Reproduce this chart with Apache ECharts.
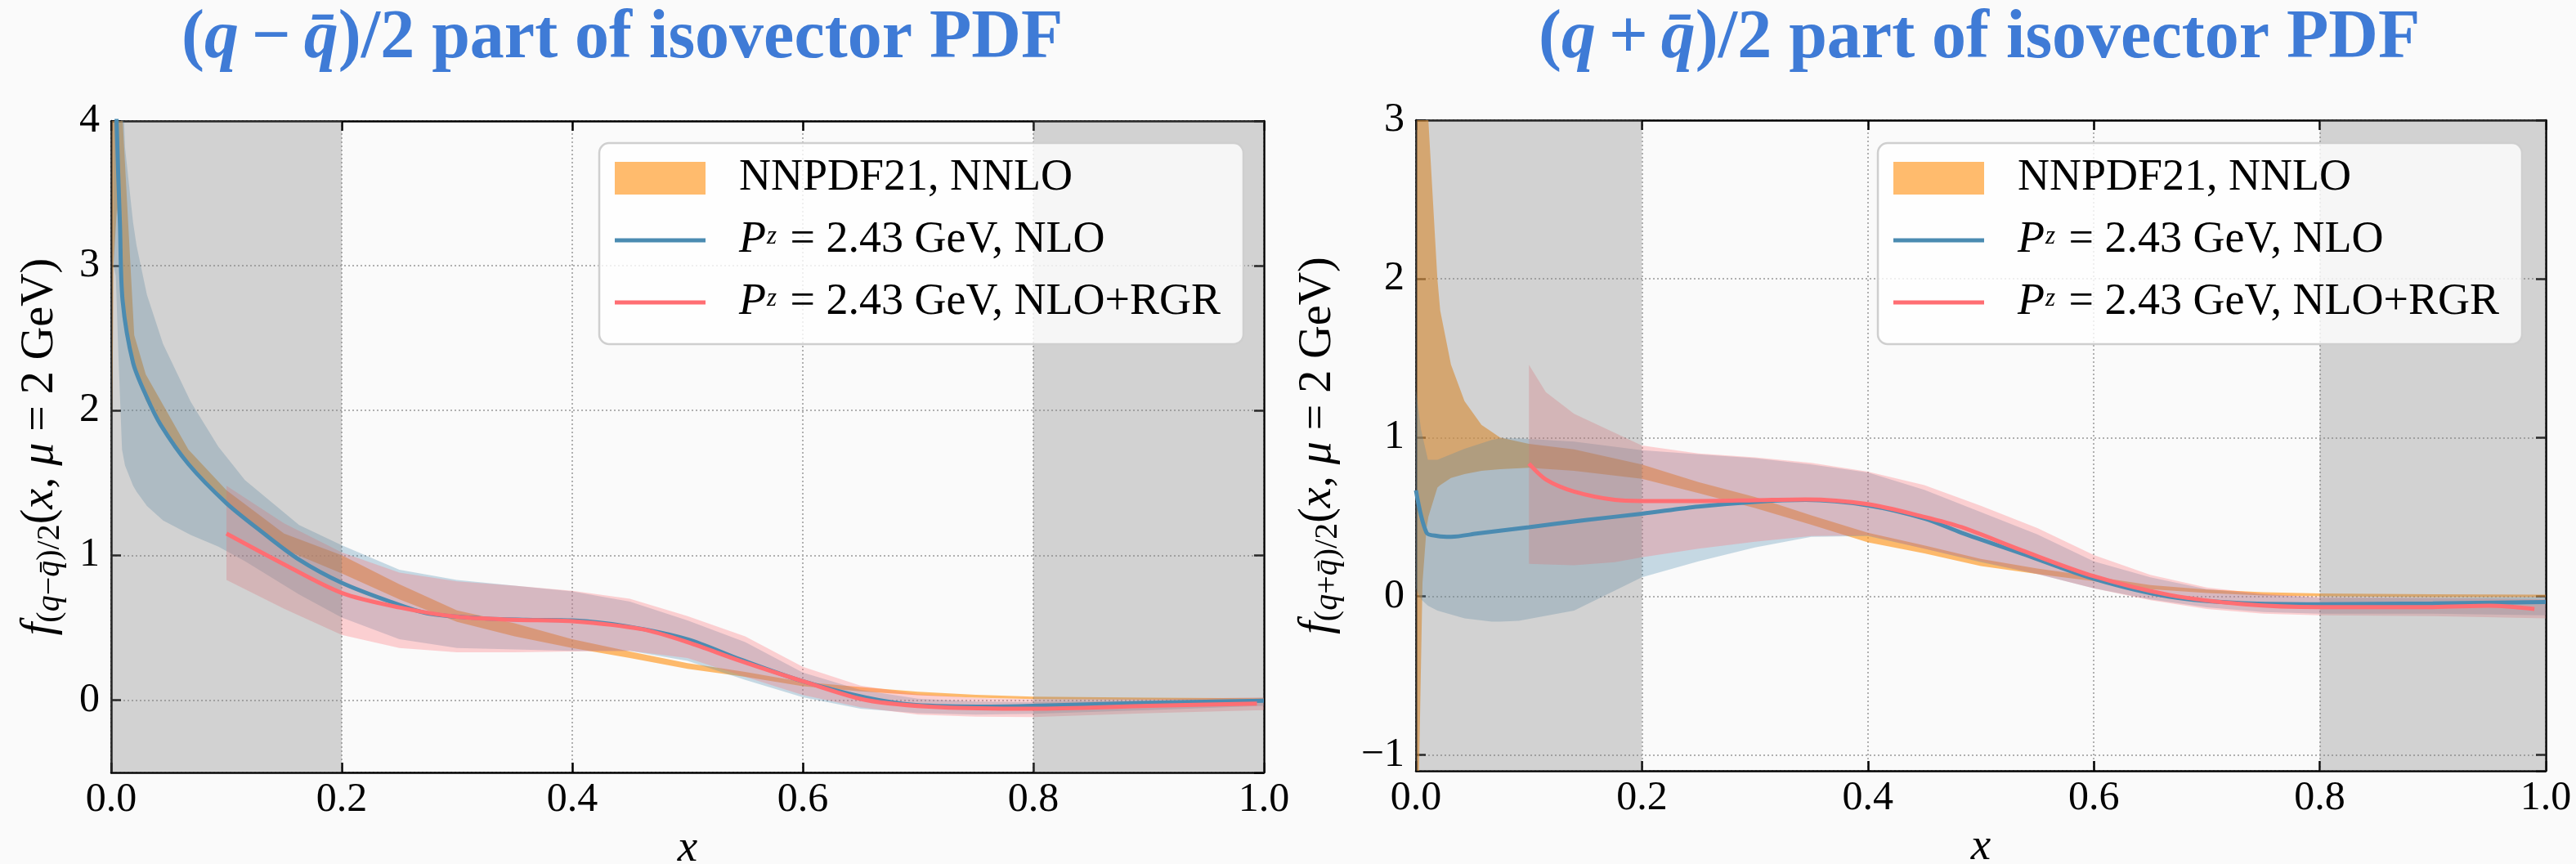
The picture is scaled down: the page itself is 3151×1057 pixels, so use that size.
<!DOCTYPE html>
<html>
<head>
<meta charset="utf-8">
<script src="https://cdn.jsdelivr.net/npm/echarts@6/dist/echarts.min.js"></script>
<style>
html, body { margin: 0; padding: 0; background: #fafafa; }
#chart { width: 3151px; height: 1057px; }
</style>
</head>
<body>
<div id="chart"></div>
<script>
// ---- data ----
const legendNames = ['NNPDF21, NNLO', 'Pz = 2.43 GeV, NLO', 'Pz = 2.43 GeV, NLO+RGR'];
const shadedRanges = [[0, 0.2], [0.8, 1.0]];

// left panel: (q - qbar)/2
const leftNnpdfX = [0.001, 0.002, 0.005, 0.008, 0.01, 0.02, 0.03, 0.045, 0.067, 0.1, 0.15, 0.2, 0.25, 0.3, 0.35, 0.4, 0.45, 0.5, 0.55, 0.6, 0.65, 0.7, 0.75, 0.8, 0.9, 1.0];
const leftNnpdfLow = [1.95, 3.0, 3.4, 3.15, 2.74, 2.30, 2.07, 1.86, 1.62, 1.34, 1.04, 0.875, 0.695, 0.54, 0.44, 0.36, 0.29, 0.215, 0.16, 0.095, 0.06, 0.033, 0.017, 0.007, 0.003, -0.002];
const leftNnpdfHigh = [6.0, 6.0, 5.0, 4.3, 4.0, 2.52, 2.25, 2.04, 1.73, 1.45, 1.15, 1.0, 0.80, 0.62, 0.53, 0.42, 0.335, 0.255, 0.195, 0.125, 0.09, 0.057, 0.037, 0.024, 0.017, 0.012];

const leftNloBandX = [0.002, 0.004, 0.0064, 0.0094, 0.012, 0.019, 0.022, 0.031, 0.045, 0.069, 0.093, 0.116, 0.163, 0.2, 0.25, 0.3, 0.35, 0.4, 0.45, 0.5, 0.55, 0.6, 0.65, 0.7, 0.75, 0.8, 0.9, 1.0];
const leftNloLow = [3.0, 2.93, 2.35, 1.73, 1.62, 1.48, 1.44, 1.34, 1.24, 1.14, 1.06, 0.96, 0.73, 0.57, 0.42, 0.36, 0.35, 0.34, 0.34, 0.27, 0.14, 0.02, -0.06, -0.09, -0.1, -0.095, -0.07, -0.04];
const leftNloHigh = [6.0, 6.0, 5.5, 4.4, 3.82, 3.3, 3.14, 2.80, 2.46, 2.06, 1.75, 1.52, 1.21, 1.07, 0.90, 0.83, 0.79, 0.75, 0.68, 0.55, 0.40, 0.19, 0.07, 0.01, -0.01, -0.015, -0.005, 0.01];

const leftRgrBandX = [0.1, 0.15, 0.2, 0.25, 0.3, 0.35, 0.4, 0.45, 0.5, 0.55, 0.6, 0.65, 0.7, 0.75, 0.8, 0.9, 1.0];
const leftRgrLow = [0.83, 0.63, 0.45, 0.36, 0.33, 0.33, 0.335, 0.34, 0.29, 0.16, 0.035, -0.05, -0.1, -0.115, -0.117, -0.09, -0.07];
const leftRgrHigh = [1.48, 1.22, 1.02, 0.88, 0.82, 0.79, 0.755, 0.70, 0.58, 0.44, 0.23, 0.10, 0.04, 0.015, 0.006, 0.006, 0.02];

const leftNloX = [0.004, 0.0047, 0.0076, 0.0099, 0.019, 0.031, 0.043, 0.067, 0.1, 0.131, 0.163, 0.2, 0.242, 0.274, 0.321, 0.36, 0.4, 0.447, 0.5, 0.546, 0.6, 0.655, 0.698, 0.763, 0.8, 0.894, 1.0];
const leftNloY = [4.5, 4.0, 3.29, 2.76, 2.33, 2.09, 1.90, 1.63, 1.36, 1.16, 0.97, 0.81, 0.68, 0.60, 0.565, 0.555, 0.55, 0.51, 0.42, 0.28, 0.13, 0.017, -0.034, -0.045, -0.04, -0.02, -0.005];

const leftRgrX = [0.1, 0.147, 0.2, 0.25, 0.3, 0.35, 0.4, 0.46, 0.5, 0.546, 0.6, 0.655, 0.72, 0.8, 0.9, 0.994];
const leftRgrY = [1.15, 0.95, 0.74, 0.64, 0.575, 0.555, 0.545, 0.49, 0.40, 0.27, 0.13, 0.0, -0.05, -0.06, -0.04, -0.025];

// right panel: (q + qbar)/2
const rightNnpdfX = [0.001, 0.0025, 0.0058, 0.0094, 0.011, 0.019, 0.0215, 0.031, 0.043, 0.058, 0.0745, 0.1, 0.14, 0.2, 0.25, 0.3, 0.35, 0.4, 0.45, 0.5, 0.55, 0.6, 0.65, 0.7, 0.75, 0.8, 0.9, 1.0];
const rightNnpdfLow = [-3.0, -1.2, 0.085, 0.43, 0.50, 0.685, 0.70, 0.745, 0.77, 0.79, 0.80, 0.81, 0.79, 0.74, 0.65, 0.556, 0.45, 0.34, 0.27, 0.19, 0.14, 0.095, 0.045, 0.02, 0.005, 0.0, -0.005, -0.005];
const rightNnpdfHigh = [8.0, 6.0, 4.5, 3.4, 3.0, 2.0, 1.80, 1.46, 1.23, 1.08, 1.0, 0.96, 0.925, 0.83, 0.72, 0.626, 0.51, 0.40, 0.32, 0.235, 0.175, 0.125, 0.07, 0.042, 0.025, 0.018, 0.012, 0.01];

const rightNloBandX = [0.0, 0.0045, 0.0106, 0.019, 0.043, 0.067, 0.0745, 0.091, 0.14, 0.2, 0.25, 0.3, 0.35, 0.4, 0.45, 0.5, 0.55, 0.6, 0.65, 0.7, 0.75, 0.8, 0.9, 1.0];
const rightNloLow = [0.05, -0.02, -0.06, -0.09, -0.14, -0.16, -0.16, -0.155, -0.09, 0.12, 0.22, 0.307, 0.375, 0.38, 0.30, 0.215, 0.14, 0.05, -0.02, -0.07, -0.1, -0.11, -0.11, -0.12];
const rightNloHigh = [1.3, 1.05, 0.86, 0.86, 0.93, 0.985, 0.995, 0.995, 0.975, 0.92, 0.895, 0.87, 0.83, 0.78, 0.67, 0.53, 0.39, 0.22, 0.12, 0.045, 0.012, -0.01, -0.01, -0.005];

const rightRgrBandX = [0.1, 0.115, 0.14, 0.176, 0.2, 0.25, 0.3, 0.35, 0.4, 0.45, 0.5, 0.55, 0.6, 0.65, 0.7, 0.75, 0.8, 0.9, 1.0];
const rightRgrLow = [0.204, 0.20, 0.195, 0.215, 0.246, 0.30, 0.343, 0.38, 0.385, 0.30, 0.22, 0.14, 0.05, -0.025, -0.08, -0.11, -0.12, -0.125, -0.14];
const rightRgrHigh = [1.458, 1.286, 1.15, 1.03, 0.95, 0.90, 0.875, 0.84, 0.785, 0.70, 0.57, 0.43, 0.26, 0.135, 0.055, 0.015, -0.005, -0.01, -0.02];

const rightNloX = [0.0, 0.0094, 0.019, 0.031, 0.055, 0.1, 0.15, 0.2, 0.25, 0.3, 0.345, 0.4, 0.45, 0.483, 0.536, 0.6, 0.667, 0.733, 0.8, 0.9, 1.0];
const rightNloY = [0.667, 0.40, 0.38, 0.375, 0.396, 0.435, 0.48, 0.52, 0.565, 0.595, 0.607, 0.573, 0.49, 0.40, 0.27, 0.11, -0.003, -0.044, -0.05, -0.045, -0.037];

const rightRgrX = [0.1, 0.115, 0.14, 0.176, 0.2, 0.25, 0.3, 0.345, 0.4, 0.45, 0.483, 0.536, 0.6, 0.667, 0.733, 0.8, 0.9, 0.95, 0.99];
const rightRgrY = [0.836, 0.736, 0.66, 0.607, 0.60, 0.60, 0.605, 0.61, 0.58, 0.50, 0.435, 0.29, 0.126, 0.008, -0.05, -0.068, -0.068, -0.06, -0.08];

// ---- styles ----
const serif = '"Liberation Serif", "Times New Roman", Times, serif';
const titleBlue = '#3f7bd6';
const blueLine = '#4b8bb1';
const redLine = '#ff6e73';
const orangeFill = 'rgba(255,150,30,0.65)';
const blueFill = 'rgba(75,139,177,0.3)';
const redFill = 'rgba(255,110,115,0.3)';
const spanFill = 'rgba(128,128,128,0.32)';
const lineIcon = 'path://M0,0H1V0.01H0ZM0,17.5H111V22.5H0ZM0,39.99H1V40H0Z';

const chart = echarts.init(document.getElementById('chart'));

function band(name, xs, lo, hi, fill, axis) {
  const data = xs.map((x, i) => [x, lo[i], hi[i]]);
  return {
    type: 'custom', name: name, xAxisIndex: axis, yAxisIndex: axis, z: 2,
    clip: true, silent: true,
    itemStyle: { color: fill },
    encode: { x: 0, y: [1, 2] },
    data: data,
    renderItem: function (params, api) {
      if (params.dataIndex !== 0) return;
      const upper = data.map(d => api.coord([d[0], d[2]]));
      const lower = data.map(d => api.coord([d[0], d[1]])).reverse();
      return { type: 'polygon', shape: { points: upper.concat(lower) }, style: { fill: fill } };
    }
  };
}

function spans(axis) {
  return {
    type: 'custom', xAxisIndex: axis, yAxisIndex: axis, z: 3, silent: true, clip: true,
    data: shadedRanges,
    renderItem: function (params, api) {
      const a = api.coord([api.value(0), 0]);
      const b = api.coord([api.value(1), 0]);
      const cs = params.coordSys;
      return { type: 'rect', shape: { x: a[0], y: cs.y, width: b[0] - a[0], height: cs.height }, style: { fill: spanFill } };
    }
  };
}

function curve(name, xs, ys, color, axis) {
  return {
    type: 'line', name: name, xAxisIndex: axis, yAxisIndex: axis, z: 4,
    symbol: 'none', smooth: 0.3, silent: true,
    lineStyle: { color: color, width: 5 }, itemStyle: { color: color },
    data: xs.map((x, i) => [x, ys[i]])
  };
}

const axisLine = { onZero: false, lineStyle: { color: '#000', width: 2.5 } };
const axisTick = { inside: true, length: 12, lineStyle: { color: '#000', width: 2.5 } };
const gridLine = { show: true, lineStyle: { color: '#b0b0b0', width: 2, type: [2, 3] } };

function xPair(grid) {
  return [
    {
      type: 'value', gridIndex: grid, min: 0, max: 1, position: 'bottom',
      name: 'x', nameLocation: 'middle', nameGap: 64, nameMoveOverlap: false,
      nameTextStyle: { fontFamily: serif, fontStyle: 'italic', fontSize: 55, color: '#000', lineHeight: 60 },
      axisLine: axisLine, axisTick: axisTick, splitLine: gridLine,
      axisLabel: { margin: 9, fontFamily: serif, fontSize: 50, lineHeight: 50, color: '#000', formatter: v => v.toFixed(1) }
    },
    {
      type: 'value', gridIndex: grid, min: 0, max: 1, position: 'top',
      axisLine: axisLine, axisTick: axisTick, splitLine: { show: false }, axisLabel: { show: false }
    }
  ];
}

const ylabRich = {
  i: { fontFamily: serif, fontSize: 56, fontStyle: 'italic', color: '#000', lineHeight: 64 },
  r: { fontFamily: serif, fontSize: 56, color: '#000', lineHeight: 64 },
  s: { fontFamily: serif, fontSize: 40, color: '#000', lineHeight: 34, verticalAlign: 'bottom' },
  si: { fontFamily: serif, fontSize: 40, fontStyle: 'italic', color: '#000', lineHeight: 34, verticalAlign: 'bottom' }
};

function yPair(grid, min, max, sign, gap) {
  return [
    {
      type: 'value', gridIndex: grid, min: min, max: max, position: 'left',
      name: '{i|f}{s|(}{si|q}{s|' + sign + '}{si|q\u0304}{s|)/2}{r|(}{i|x}{r|, }{i|\u03bc}{r| = 2 GeV)}',
      nameLocation: 'middle', nameRotate: 90, nameGap: gap, nameMoveOverlap: false,
      nameTextStyle: { fontFamily: serif, rich: ylabRich, lineHeight: 64 },
      axisLine: axisLine, axisTick: axisTick, splitLine: gridLine,
      axisLabel: {
        margin: 14, showMinLabel: false, fontFamily: serif, fontSize: 50, color: '#000',
        formatter: v => (v < 0 ? '\u2212' + Math.abs(v) : String(v))
      }
    },
    {
      type: 'value', gridIndex: grid, min: min, max: max, position: 'right',
      axisLine: axisLine, axisTick: axisTick, splitLine: { show: false }, axisLabel: { show: false }
    }
  ];
}

const legendRich = {
  rm: { fontFamily: serif, fontSize: 54, color: '#000', lineHeight: 40 },
  it: { fontFamily: serif, fontSize: 54, fontStyle: 'italic', color: '#000', lineHeight: 40 },
  sup: { fontFamily: serif, fontSize: 31, fontStyle: 'italic', color: '#000', lineHeight: 21, verticalAlign: 'top', padding: [0, 3, 0, 1] }
};
const legendText = {};
legendText[legendNames[0]] = '{rm|NNPDF21, NNLO}';
legendText[legendNames[1]] = '{it|P}{sup|z}{rm| = 2.43 GeV, NLO}';
legendText[legendNames[2]] = '{it|P}{sup|z}{rm| = 2.43 GeV, NLO+RGR}';

function legendAt(left) {
  return {
    orient: 'vertical', left: left, top: 175, z: 10, selectedMode: false,
    itemWidth: 111, itemHeight: 40, itemGap: 22,
    padding: [16, 28, 24, 19],
    backgroundColor: 'rgba(255,255,255,0.8)', borderColor: '#cfcfcf', borderWidth: 2.5, borderRadius: 12,
    data: [
      { name: legendNames[0], icon: 'rect', itemStyle: { color: orangeFill, borderWidth: 0 } },
      { name: legendNames[1], icon: lineIcon, itemStyle: { color: blueLine, borderWidth: 0 } },
      { name: legendNames[2], icon: lineIcon, itemStyle: { color: redLine, borderWidth: 0 } }
    ],
    formatter: name => legendText[name],
    textStyle: { fontFamily: serif, fontSize: 54, padding: [0, 0, 0, 36], lineHeight: 40, rich: legendRich }
  };
}

const titleRich = {
  m: { fontFamily: serif, fontSize: 84, color: titleBlue, lineHeight: 90 },
  i: { fontFamily: serif, fontSize: 84, fontStyle: 'italic', color: titleBlue, lineHeight: 90 },
  op: { fontFamily: serif, fontSize: 84, color: titleBlue, lineHeight: 90, padding: [0, 16, 0, 16] },
  b: { fontFamily: serif, fontSize: 84, fontWeight: 'bold', color: titleBlue, lineHeight: 90 }
};

const option = {
  backgroundColor: '#fafafa',
  animation: false,
  textStyle: { fontFamily: serif },
  title: [
    { text: '{m|(}{i|q}{op|\u2212}{i|q\u0304}{m|)/2}{b| part of isovector PDF}', left: 222, top: 3, padding: 0, textStyle: { fontFamily: serif, rich: titleRich, lineHeight: 90 } },
    { text: '{m|(}{i|q}{op|+}{i|q\u0304}{m|)/2}{b| part of isovector PDF}', left: 1882, top: 3, padding: 0, textStyle: { fontFamily: serif, rich: titleRich, lineHeight: 90 } }
  ],
  legend: [legendAt(733), legendAt(2297)],
  grid: [
    { left: 136, top: 148, width: 1410, height: 797, outerBoundsMode: 'none' },
    { left: 1732, top: 147, width: 1382, height: 796, outerBoundsMode: 'none' }
  ],
  xAxis: xPair(0).concat(xPair(1)),
  yAxis: yPair(0, -0.5, 4, '\u2212', 55).concat(yPair(1, -1.1, 3, '+', 88)),
  series: [
    band(legendNames[0], leftNnpdfX, leftNnpdfLow, leftNnpdfHigh, orangeFill, 0),
    band('nlo band left', leftNloBandX, leftNloLow, leftNloHigh, blueFill, 0),
    band('rgr band left', leftRgrBandX, leftRgrLow, leftRgrHigh, redFill, 0),
    spans(0),
    curve(legendNames[1], leftNloX, leftNloY, blueLine, 0),
    curve(legendNames[2], leftRgrX, leftRgrY, redLine, 0),

    band(legendNames[0], rightNnpdfX, rightNnpdfLow, rightNnpdfHigh, orangeFill, 2),
    band('nlo band right', rightNloBandX, rightNloLow, rightNloHigh, blueFill, 2),
    band('rgr band right', rightRgrBandX, rightRgrLow, rightRgrHigh, redFill, 2),
    spans(2),
    curve(legendNames[1], rightNloX, rightNloY, blueLine, 2),
    curve(legendNames[2], rightRgrX, rightRgrY, redLine, 2)
  ]
};

chart.setOption(option);
</script>
</body>
</html>
